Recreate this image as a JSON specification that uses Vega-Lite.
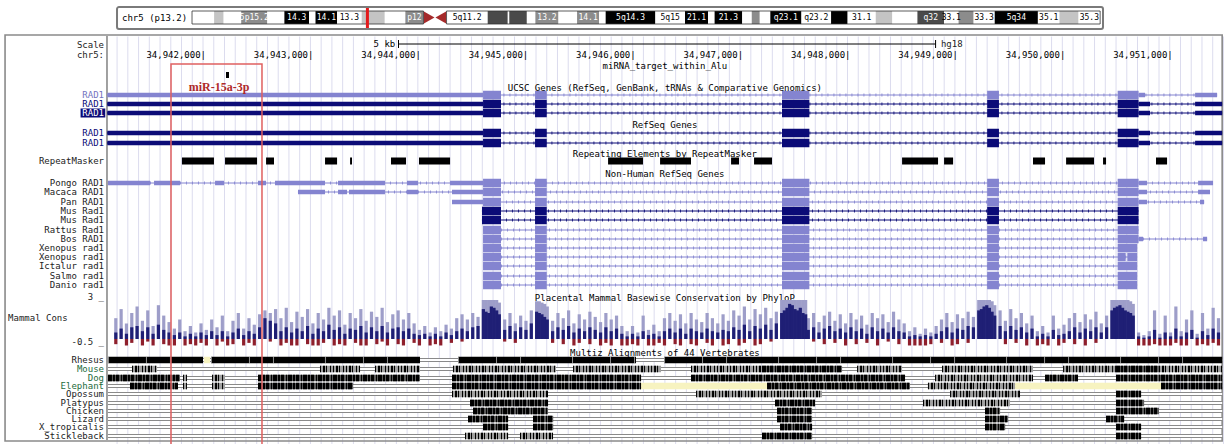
{
"$schema": "https://vega.github.io/schema/vega-lite/v6.json",
"width": 1227, "height": 444, "autosize": "none", "padding": 0,
"background": "white",
"config": {"view": {"stroke": null}},
"datasets": {
"grid": [{"s":34941200},{"s":34941300},{"s":34941400},{"s":34941500},{"s":34941600},{"s":34941700},{"s":34941800},{"s":34941900},
{"s":34942000},{"s":34942100},{"s":34942200},{"s":34942300},{"s":34942400},{"s":34942500},{"s":34942600},{"s":34942700},{"s":34942800},{"s":34942900},
{"s":34943000},{"s":34943100},{"s":34943200},{"s":34943300},{"s":34943400},{"s":34943500},{"s":34943600},{"s":34943700},{"s":34943800},{"s":34943900},
{"s":34944000},{"s":34944100},{"s":34944200},{"s":34944300},{"s":34944400},{"s":34944500},{"s":34944600},{"s":34944700},{"s":34944800},{"s":34944900},
{"s":34945000},{"s":34945100},{"s":34945200},{"s":34945300},{"s":34945400},{"s":34945500},{"s":34945600},{"s":34945700},{"s":34945800},{"s":34945900},
{"s":34946000},{"s":34946100},{"s":34946200},{"s":34946300},{"s":34946400},{"s":34946500},{"s":34946600},{"s":34946700},{"s":34946800},{"s":34946900},
{"s":34947000},{"s":34947100},{"s":34947200},{"s":34947300},{"s":34947400},{"s":34947500},{"s":34947600},{"s":34947700},{"s":34947800},{"s":34947900},
{"s":34948000},{"s":34948100},{"s":34948200},{"s":34948300},{"s":34948400},{"s":34948500},{"s":34948600},{"s":34948700},{"s":34948800},{"s":34948900},
{"s":34949000},{"s":34949100},{"s":34949200},{"s":34949300},{"s":34949400},{"s":34949500},{"s":34949600},{"s":34949700},{"s":34949800},{"s":34949900},
{"s":34950000},{"s":34950100},{"s":34950200},{"s":34950300},{"s":34950400},{"s":34950500},{"s":34950600},{"s":34950700},{"s":34950800},{"s":34950900},
{"s":34951000},{"s":34951100},{"s":34951200},{"s":34951300},{"s":34951400},{"s":34951500}],
"boxes": [{"k":"cover","s":34940110,"e":34951533,"y":0,"y2":36.5},{"k":"frame","s":34940157,"e":34951488,"y":35,"y2":441},{"k":"sep","s":34941106,"e":34941106,"y":36,"y2":440},{"k":"labbox","s":34940860,"e":34941090,"y":108.5,"y2":117.5},{"k":"hl","s":34941702,"e":34942549,"y":64,"y2":446}],
"pos": [{"s":34942000,"y":55,"t":"34,942,000|"},{"s":34943000,"y":55,"t":"34,943,000|"},{"s":34944000,"y":55,"t":"34,944,000|"},{"s":34945000,"y":55,"t":"34,945,000|"},{"s":34946000,"y":55,"t":"34,946,000|"},{"s":34947000,"y":55,"t":"34,947,000|"},{"s":34948000,"y":55,"t":"34,948,000|"},{"s":34949000,"y":55,"t":"34,949,000|"},{"s":34950000,"y":55,"t":"34,950,000|"},{"s":34951000,"y":55,"t":"34,951,000|"}],
"scalebar": [{"s":34943820,"e":34948820,"y":44,"y1":40,"y2":48}],
"scaletxt": [{"s":34943790,"y":44,"t":"5 kb","a":"r"},{"s":34948870,"y":44,"t":"hg18","a":"l"},{"s":34940185,"y":318,"t":"Mammal Cons","a":"l"}],
"titles": [{"s":34946300,"t":"miRNA_target_within_Alu","y":66},{"s":34946300,"t":"UCSC Genes (RefSeq, GenBank, tRNAs & Comparative Genomics)","y":88},{"s":34946300,"t":"RefSeq Genes","y":125},{"s":34946300,"t":"Repeating Elements by RepeatMasker","y":154},{"s":34946300,"t":"Non-Human RefSeq Genes","y":174},{"s":34946300,"t":"Placental Mammal Basewise Conservation by PhyloP","y":298},{"s":34946300,"t":"Multiz Alignments of 44 Vertebrates","y":352.5}],
"mir": [{"s":34942149,"y":87,"t":"miR-15a-3p"}],
"lab": [{"s":34941078,"t":"Scale","y":45,"g":"k"},{"s":34941078,"t":"chr5:","y":55,"g":"k"},{"s":34941078,"t":"RAD1","y":95,"g":"u"},{"s":34941078,"t":"RAD1","y":104,"g":"n"},{"s":34941078,"t":"RAD1","y":113,"g":"h"},{"s":34941078,"t":"RAD1","y":133,"g":"n"},{"s":34941078,"t":"RAD1","y":143,"g":"n"},{"s":34941078,"t":"RepeatMasker","y":161,"g":"k"},
{"s":34941078,"t":"Pongo RAD1","y":183,"g":"k"},{"s":34941078,"t":"Macaca RAD1","y":192,"g":"k"},{"s":34941078,"t":"Pan RAD1","y":202,"g":"k"},{"s":34941078,"t":"Mus Rad1","y":211,"g":"k"},{"s":34941078,"t":"Mus Rad1","y":220,"g":"k"},{"s":34941078,"t":"Rattus Rad1","y":230,"g":"k"},{"s":34941078,"t":"Bos RAD1","y":239,"g":"k"},{"s":34941078,"t":"Xenopus rad1","y":248,"g":"k"},{"s":34941078,"t":"Xenopus rad1","y":257,"g":"k"},{"s":34941078,"t":"Ictalur rad1","y":266,"g":"k"},{"s":34941078,"t":"Salmo rad1","y":276,"g":"k"},{"s":34941078,"t":"Danio rad1","y":285,"g":"k"},
{"s":34941078,"t":"3 _","y":297,"g":"k"},{"s":34941078,"t":"-0.5 _","y":342,"g":"k"},
{"s":34941078,"t":"Rhesus","y":360,"g":"k"},{"s":34941078,"t":"Mouse","y":369,"g":"sp"},{"s":34941078,"t":"Dog","y":378,"g":"sp"},{"s":34941078,"t":"Elephant","y":386,"g":"sp"},{"s":34941078,"t":"Opossum","y":394,"g":"k"},{"s":34941078,"t":"Platypus","y":403,"g":"k"},{"s":34941078,"t":"Chicken","y":411,"g":"k"},{"s":34941078,"t":"Lizard","y":419,"g":"k"},{"s":34941078,"t":"X_tropicalis","y":427,"g":"k"},{"s":34941078,"t":"Stickleback","y":436,"g":"k"}],
"seg": [
{"s":34941110,"e":34951441,"y":95,"k":"line","src":"oth"},{"s":34941110,"e":34944607,"y":95,"k":"utr","src":"oth"},{"s":34944607,"e":34944774,"y":95,"k":"cds","src":"oth"},{"s":34945091,"e":34945200,"y":95,"k":"cds","src":"oth"},{"s":34947390,"e":34947645,"y":95,"k":"cds","src":"oth"},{"s":34949300,"e":34949410,"y":95,"k":"cds","src":"oth"},{"s":34950515,"e":34950710,"y":95,"k":"cds","src":"oth"},{"s":34950710,"e":34950770,"y":95,"k":"utr","src":"oth"},{"s":34951236,"e":34951441,"y":95,"k":"utr","src":"oth"},
{"s":34941110,"e":34951488,"y":104,"k":"line","src":"ref"},{"s":34941110,"e":34944607,"y":104,"k":"utr","src":"ref"},{"s":34944607,"e":34944774,"y":104,"k":"cds","src":"ref"},{"s":34945091,"e":34945200,"y":104,"k":"cds","src":"ref"},{"s":34947390,"e":34947645,"y":104,"k":"cds","src":"ref"},{"s":34949300,"e":34949410,"y":104,"k":"cds","src":"ref"},{"s":34950515,"e":34950710,"y":104,"k":"cds","src":"ref"},{"s":34950710,"e":34950817,"y":104,"k":"utr","src":"ref"},{"s":34951236,"e":34951488,"y":104,"k":"utr","src":"ref"},
{"s":34941110,"e":34951488,"y":113,"k":"line","src":"ref"},{"s":34941110,"e":34944607,"y":113,"k":"utr","src":"ref"},{"s":34944607,"e":34944774,"y":113,"k":"cds","src":"ref"},{"s":34945091,"e":34945200,"y":113,"k":"cds","src":"ref"},{"s":34947390,"e":34947645,"y":113,"k":"cds","src":"ref"},{"s":34949300,"e":34949410,"y":113,"k":"cds","src":"ref"},{"s":34950515,"e":34950710,"y":113,"k":"cds","src":"ref"},{"s":34950710,"e":34950817,"y":113,"k":"utr","src":"ref"},{"s":34951236,"e":34951488,"y":113,"k":"utr","src":"ref"},
{"s":34941110,"e":34951488,"y":133,"k":"line","src":"ref"},{"s":34941110,"e":34944607,"y":133,"k":"utr","src":"ref"},{"s":34944607,"e":34944774,"y":133,"k":"cds","src":"ref"},{"s":34945091,"e":34945200,"y":133,"k":"cds","src":"ref"},{"s":34947390,"e":34947645,"y":133,"k":"cds","src":"ref"},{"s":34949300,"e":34949410,"y":133,"k":"cds","src":"ref"},{"s":34950515,"e":34950710,"y":133,"k":"cds","src":"ref"},{"s":34950710,"e":34950817,"y":133,"k":"utr","src":"ref"},{"s":34951236,"e":34951488,"y":133,"k":"utr","src":"ref"},
{"s":34941110,"e":34951488,"y":143,"k":"line","src":"ref"},{"s":34941110,"e":34944607,"y":143,"k":"utr","src":"ref"},{"s":34944607,"e":34944774,"y":143,"k":"cds","src":"ref"},{"s":34945091,"e":34945200,"y":143,"k":"cds","src":"ref"},{"s":34947390,"e":34947645,"y":143,"k":"cds","src":"ref"},{"s":34949300,"e":34949410,"y":143,"k":"cds","src":"ref"},{"s":34950515,"e":34950710,"y":143,"k":"cds","src":"ref"},{"s":34950710,"e":34950817,"y":143,"k":"utr","src":"ref"},{"s":34951236,"e":34951488,"y":143,"k":"utr","src":"ref"},
{"s":34941804,"e":34942102,"y":161,"k":"rm","src":"rm"},{"s":34942205,"e":34942503,"y":161,"k":"rm","src":"rm"},{"s":34942587,"e":34942661,"y":161,"k":"rm","src":"rm"},{"s":34943136,"e":34943248,"y":161,"k":"rm","src":"rm"},{"s":34943369,"e":34943387,"y":161,"k":"rm","src":"rm"},{"s":34943750,"e":34943890,"y":161,"k":"rm","src":"rm"},{"s":34944011,"e":34944300,"y":161,"k":"rm","src":"rm"},{"s":34945771,"e":34946096,"y":161,"k":"rm","src":"rm"},{"s":34946255,"e":34946543,"y":161,"k":"rm","src":"rm"},{"s":34946916,"e":34946990,"y":161,"k":"rm","src":"rm"},{"s":34947130,"e":34947297,"y":161,"k":"rm","src":"rm"},{"s":34948508,"e":34948843,"y":161,"k":"rm","src":"rm"},{"s":34948899,"e":34948983,"y":161,"k":"rm","src":"rm"},{"s":34949727,"e":34949839,"y":161,"k":"rm","src":"rm"},{"s":34950035,"e":34950295,"y":161,"k":"rm","src":"rm"},{"s":34950379,"e":34950407,"y":161,"k":"rm","src":"rm"},{"s":34950872,"e":34950975,"y":161,"k":"rm","src":"rm"},
{"s":34942214,"e":34942242,"y":75,"k":"mir","src":"rm"},
{"s":34941115,"e":34951403,"y":183,"k":"line","src":"oth"},{"s":34941115,"e":34941507,"y":183,"k":"utr","src":"oth"},{"s":34941544,"e":34941786,"y":183,"k":"utr","src":"oth"},{"s":34942112,"e":34942196,"y":183,"k":"utr","src":"oth"},{"s":34942512,"e":34942587,"y":183,"k":"utr","src":"oth"},{"s":34942670,"e":34943136,"y":183,"k":"utr","src":"oth"},{"s":34943257,"e":34943694,"y":183,"k":"utr","src":"oth"},{"s":34943899,"e":34944002,"y":183,"k":"utr","src":"oth"},{"s":34944300,"e":34944607,"y":183,"k":"utr","src":"oth"},{"s":34944607,"e":34944774,"y":183,"k":"cds","src":"oth"},{"s":34945091,"e":34945200,"y":183,"k":"cds","src":"oth"},{"s":34947390,"e":34947645,"y":183,"k":"cds","src":"oth"},{"s":34949300,"e":34949410,"y":183,"k":"cds","src":"oth"},{"s":34950515,"e":34950710,"y":183,"k":"cds","src":"oth"},{"s":34950710,"e":34950789,"y":183,"k":"utr","src":"oth"},{"s":34951264,"e":34951403,"y":183,"k":"utr","src":"oth"},
{"s":34942884,"e":34951375,"y":192,"k":"line","src":"oth"},{"s":34942884,"e":34943136,"y":192,"k":"utr","src":"oth"},{"s":34943257,"e":34943341,"y":192,"k":"utr","src":"oth"},{"s":34943359,"e":34943694,"y":192,"k":"utr","src":"oth"},{"s":34943899,"e":34944002,"y":192,"k":"utr","src":"oth"},{"s":34944318,"e":34944607,"y":192,"k":"utr","src":"oth"},{"s":34944607,"e":34944774,"y":192,"k":"cds","src":"oth"},{"s":34945091,"e":34945200,"y":192,"k":"cds","src":"oth"},{"s":34947390,"e":34947645,"y":192,"k":"cds","src":"oth"},{"s":34949300,"e":34949410,"y":192,"k":"cds","src":"oth"},{"s":34950515,"e":34950710,"y":192,"k":"cds","src":"oth"},{"s":34950710,"e":34950789,"y":192,"k":"utr","src":"oth"},{"s":34951264,"e":34951375,"y":192,"k":"utr","src":"oth"},
{"s":34944318,"e":34951320,"y":202,"k":"line","src":"oth"},{"s":34944318,"e":34944607,"y":202,"k":"utr","src":"oth"},{"s":34944607,"e":34944774,"y":202,"k":"cds","src":"oth"},{"s":34945091,"e":34945200,"y":202,"k":"cds","src":"oth"},{"s":34947390,"e":34947645,"y":202,"k":"cds","src":"oth"},{"s":34949300,"e":34949410,"y":202,"k":"cds","src":"oth"},{"s":34950515,"e":34950710,"y":202,"k":"cds","src":"oth"},{"s":34950710,"e":34950789,"y":202,"k":"utr","src":"oth"},{"s":34951282,"e":34951320,"y":202,"k":"utr","src":"oth"},
{"s":34944597,"e":34950710,"y":211,"k":"line","src":"ref"},{"s":34944597,"e":34944774,"y":211,"k":"cds","src":"ref"},{"s":34945091,"e":34945200,"y":211,"k":"cds","src":"ref"},{"s":34947390,"e":34947645,"y":211,"k":"cds","src":"ref"},{"s":34949300,"e":34949410,"y":211,"k":"cds","src":"ref"},{"s":34950515,"e":34950710,"y":211,"k":"cds","src":"ref"},
{"s":34944597,"e":34950710,"y":220,"k":"line","src":"ref"},{"s":34944597,"e":34944774,"y":220,"k":"cds","src":"ref"},{"s":34945091,"e":34945200,"y":220,"k":"cds","src":"ref"},{"s":34947390,"e":34947645,"y":220,"k":"cds","src":"ref"},{"s":34949300,"e":34949410,"y":220,"k":"cds","src":"ref"},{"s":34950515,"e":34950710,"y":220,"k":"cds","src":"ref"},
{"s":34944607,"e":34950710,"y":230,"k":"line","src":"oth"},{"s":34944607,"e":34944774,"y":230,"k":"cds","src":"oth"},{"s":34945091,"e":34945200,"y":230,"k":"cds","src":"oth"},{"s":34947390,"e":34947645,"y":230,"k":"cds","src":"oth"},{"s":34949300,"e":34949410,"y":230,"k":"cds","src":"oth"},{"s":34950515,"e":34950710,"y":230,"k":"cds","src":"oth"},
{"s":34944607,"e":34951348,"y":239,"k":"line","src":"oth"},{"s":34944607,"e":34944774,"y":239,"k":"cds","src":"oth"},{"s":34945091,"e":34945200,"y":239,"k":"cds","src":"oth"},{"s":34947390,"e":34947645,"y":239,"k":"cds","src":"oth"},{"s":34949300,"e":34949410,"y":239,"k":"cds","src":"oth"},{"s":34950515,"e":34950710,"y":239,"k":"cds","src":"oth"},{"s":34950710,"e":34950751,"y":239,"k":"utr","src":"oth"},{"s":34951310,"e":34951348,"y":239,"k":"utr","src":"oth"},
{"s":34944607,"e":34950696,"y":248,"k":"line","src":"oth"},{"s":34944607,"e":34944774,"y":248,"k":"cds","src":"oth"},{"s":34945091,"e":34945200,"y":248,"k":"cds","src":"oth"},{"s":34947390,"e":34947645,"y":248,"k":"cds","src":"oth"},{"s":34949300,"e":34949410,"y":248,"k":"cds","src":"oth"},{"s":34950515,"e":34950696,"y":248,"k":"cds","src":"oth"},
{"s":34944607,"e":34950696,"y":257,"k":"line","src":"oth"},{"s":34944607,"e":34944774,"y":257,"k":"cds","src":"oth"},{"s":34945091,"e":34945200,"y":257,"k":"cds","src":"oth"},{"s":34947390,"e":34947645,"y":257,"k":"cds","src":"oth"},{"s":34949300,"e":34949410,"y":257,"k":"cds","src":"oth"},{"s":34950515,"e":34950590,"y":257,"k":"cds","src":"oth"},{"s":34950605,"e":34950696,"y":257,"k":"cds","src":"oth"},
{"s":34944607,"e":34950696,"y":266,"k":"line","src":"oth"},{"s":34944607,"e":34944774,"y":266,"k":"cds","src":"oth"},{"s":34945091,"e":34945200,"y":266,"k":"cds","src":"oth"},{"s":34947390,"e":34947645,"y":266,"k":"cds","src":"oth"},{"s":34949300,"e":34949410,"y":266,"k":"cds","src":"oth"},{"s":34950515,"e":34950696,"y":266,"k":"cds","src":"oth"},
{"s":34944607,"e":34950696,"y":276,"k":"line","src":"oth"},{"s":34944607,"e":34944774,"y":276,"k":"cds","src":"oth"},{"s":34945091,"e":34945200,"y":276,"k":"cds","src":"oth"},{"s":34947390,"e":34947645,"y":276,"k":"cds","src":"oth"},{"s":34949300,"e":34949410,"y":276,"k":"cds","src":"oth"},{"s":34950515,"e":34950696,"y":276,"k":"cds","src":"oth"},
{"s":34944607,"e":34950696,"y":285,"k":"line","src":"oth"},{"s":34944607,"e":34944774,"y":285,"k":"cds","src":"oth"},{"s":34945091,"e":34945200,"y":285,"k":"cds","src":"oth"},{"s":34947390,"e":34947645,"y":285,"k":"cds","src":"oth"},{"s":34949300,"e":34949410,"y":285,"k":"cds","src":"oth"},{"s":34950515,"e":34950696,"y":285,"k":"cds","src":"oth"}
],
"alnrows": [{"s":34941115,"e":34951488,"y":360},{"s":34941115,"e":34951488,"y":369},{"s":34941115,"e":34951488,"y":378},{"s":34941115,"e":34951488,"y":386},{"s":34941115,"e":34951488,"y":394},{"s":34941115,"e":34951488,"y":403},{"s":34941115,"e":34951488,"y":411},{"s":34941115,"e":34951488,"y":419},{"s":34941115,"e":34951488,"y":427},{"s":34941115,"e":34951488,"y":436}],
"aln": [
{"s":34941115,"e":34942000,"y":360,"k":"solid"},{"s":34942009,"e":34942065,"y":360,"k":"ins"},{"s":34942074,"e":34944020,"y":360,"k":"solid"},{"s":34944374,"e":34946031,"y":360,"k":"solid"},{"s":34946292,"e":34951488,"y":360,"k":"solid"},
{"s":34941339,"e":34941572,"y":369,"k":"sparse"},{"s":34943089,"e":34943462,"y":369,"k":"sparse"},{"s":34943601,"e":34944020,"y":369,"k":"sparse"},{"s":34944327,"e":34945286,"y":369,"k":"sparse"},{"s":34945445,"e":34946264,"y":369,"k":"sparse"},{"s":34946543,"e":34947204,"y":369,"k":"sparse"},{"s":34947204,"e":34947949,"y":369,"k":"dense"},{"s":34948089,"e":34948508,"y":369,"k":"sparse"},{"s":34948880,"e":34949727,"y":369,"k":"sparse"},{"s":34950007,"e":34950500,"y":369,"k":"sparse"},{"s":34950500,"e":34950900,"y":369,"k":"dense"},{"s":34950900,"e":34951488,"y":369,"k":"sparse"},
{"s":34941115,"e":34941786,"y":378,"k":"dense"},{"s":34941814,"e":34941851,"y":378,"k":"sparse"},{"s":34942084,"e":34942205,"y":378,"k":"sparse"},{"s":34942512,"e":34944020,"y":378,"k":"dense"},{"s":34944318,"e":34946078,"y":378,"k":"dense"},{"s":34946543,"e":34948536,"y":378,"k":"dense"},{"s":34948815,"e":34949727,"y":378,"k":"sparse"},{"s":34949839,"e":34950146,"y":378,"k":"dense"},{"s":34950500,"e":34951488,"y":378,"k":"dense"},
{"s":34941320,"e":34941767,"y":386,"k":"dense"},{"s":34941814,"e":34941851,"y":386,"k":"sparse"},{"s":34942084,"e":34942205,"y":386,"k":"sparse"},{"s":34942512,"e":34943397,"y":386,"k":"dense"},{"s":34944318,"e":34946078,"y":386,"k":"dense"},{"s":34946078,"e":34947251,"y":386,"k":"ins"},{"s":34947251,"e":34948582,"y":386,"k":"dense"},{"s":34948749,"e":34949560,"y":386,"k":"sparse"},{"s":34949560,"e":34950919,"y":386,"k":"ins"},{"s":34950919,"e":34951488,"y":386,"k":"dense"},
{"s":34944318,"e":34945212,"y":394,"k":"sparse"},{"s":34946590,"e":34947763,"y":394,"k":"sparse"},{"s":34948955,"e":34949606,"y":394,"k":"sparse"},{"s":34950500,"e":34950733,"y":394,"k":"dense"},
{"s":34944486,"e":34945212,"y":403,"k":"dense"},{"s":34947325,"e":34947698,"y":403,"k":"dense"},{"s":34948703,"e":34949513,"y":403,"k":"sparse"},{"s":34950500,"e":34950761,"y":403,"k":"dense"},
{"s":34944514,"e":34945212,"y":411,"k":"dense"},{"s":34947344,"e":34947670,"y":411,"k":"dense"},{"s":34949280,"e":34949420,"y":411,"k":"dense"},{"s":34950500,"e":34950900,"y":411,"k":"dense"},
{"s":34944467,"e":34944840,"y":419,"k":"dense"},{"s":34945072,"e":34945259,"y":419,"k":"dense"},{"s":34947344,"e":34947670,"y":419,"k":"dense"},{"s":34949280,"e":34949495,"y":419,"k":"dense"},{"s":34950407,"e":34950575,"y":419,"k":"dense"},
{"s":34944607,"e":34944840,"y":427,"k":"dense"},{"s":34945072,"e":34945259,"y":427,"k":"dense"},{"s":34947372,"e":34947670,"y":427,"k":"dense"},{"s":34949280,"e":34949467,"y":427,"k":"dense"},{"s":34950500,"e":34950733,"y":427,"k":"dense"},
{"s":34944439,"e":34944840,"y":436,"k":"sparse"},{"s":34944951,"e":34945259,"y":436,"k":"sparse"},{"s":34947204,"e":34947670,"y":436,"k":"dense"},{"s":34950500,"e":34950733,"y":436,"k":"dense"}
],
"ideo": [{"k":"frame","s":-14.94,"e":181.47,"y":7,"y2":29},{"k":"arm","s":0,"e":46.1,"y":11,"y2":24},{"k":"arm","s":50.7,"e":180.9,"y":11,"y2":24},{"k":"here","s":34.94,"e":34.94,"y":8,"y2":28}],
"bands": [{"s":0,"e":4.4,"st":"gneg","y":11,"y2":24},{"s":4.4,"e":6.3,"st":"gpos25","y":11,"y2":24},{"s":6.3,"e":9.8,"st":"gneg","y":11,"y2":24},{"s":9.8,"e":15.0,"st":"gpos50","y":11,"y2":24},{"s":15.0,"e":18.4,"st":"gneg","y":11,"y2":24},{"s":18.4,"e":23.3,"st":"gpos100","y":11,"y2":24},{"s":23.3,"e":24.6,"st":"gneg","y":11,"y2":24},{"s":24.6,"e":28.9,"st":"gpos100","y":11,"y2":24},{"s":28.9,"e":33.8,"st":"gneg","y":11,"y2":24},{"s":33.8,"e":38.4,"st":"gpos25","y":11,"y2":24},{"s":38.4,"e":42.5,"st":"gneg","y":11,"y2":24},{"s":42.5,"e":46.1,"st":"gpos50","y":11,"y2":24},{"s":50.7,"e":58.9,"st":"gneg","y":11,"y2":24},{"s":58.9,"e":62.9,"st":"gpos75","y":11,"y2":24},{"s":62.9,"e":63.2,"st":"gneg","y":11,"y2":24},{"s":63.2,"e":66.7,"st":"gpos75","y":11,"y2":24},{"s":66.7,"e":68.4,"st":"gneg","y":11,"y2":24},{"s":68.4,"e":73.0,"st":"gpos50","y":11,"y2":24},{"s":73.0,"e":76.7,"st":"gneg","y":11,"y2":24},{"s":76.7,"e":81.1,"st":"gpos50","y":11,"y2":24},{"s":81.1,"e":82.4,"st":"gneg","y":11,"y2":24},{"s":82.4,"e":92.3,"st":"gpos100","y":11,"y2":24},{"s":92.3,"e":98.2,"st":"gneg","y":11,"y2":24},{"s":98.2,"e":102.8,"st":"gpos100","y":11,"y2":24},{"s":102.8,"e":104.1,"st":"gneg","y":11,"y2":24},{"s":104.1,"e":109.6,"st":"gpos100","y":11,"y2":24},{"s":109.6,"e":111.5,"st":"gneg","y":11,"y2":24},{"s":111.5,"e":113.1,"st":"gpos50","y":11,"y2":24},{"s":113.1,"e":115.2,"st":"gneg","y":11,"y2":24},{"s":115.2,"e":121.4,"st":"gpos100","y":11,"y2":24},{"s":121.4,"e":127.3,"st":"gneg","y":11,"y2":24},{"s":127.3,"e":130.6,"st":"gpos100","y":11,"y2":24},{"s":130.6,"e":136.2,"st":"gneg","y":11,"y2":24},{"s":136.2,"e":139.5,"st":"gpos25","y":11,"y2":24},{"s":139.5,"e":144.5,"st":"gneg","y":11,"y2":24},{"s":144.5,"e":149.8,"st":"gpos75","y":11,"y2":24},{"s":149.8,"e":152.7,"st":"gneg","y":11,"y2":24},{"s":152.7,"e":155.7,"st":"gpos50","y":11,"y2":24},{"s":155.7,"e":159.9,"st":"gneg","y":11,"y2":24},{"s":159.9,"e":168.5,"st":"gpos100","y":11,"y2":24},{"s":168.5,"e":172.8,"st":"gneg","y":11,"y2":24},{"s":172.8,"e":176.6,"st":"gpos25","y":11,"y2":24},{"s":176.6,"e":180.9,"st":"gneg","y":11,"y2":24}],
"blabs": [{"s":-13.94,"y":17.5,"t":"chr5 (p13.2)","st":"txt"},{"s":12.4,"y":17.5,"t":"5p15.2","st":"gpos50"},{"s":20.85,"y":17.5,"t":"14.3","st":"gpos100"},{"s":26.75,"y":17.5,"t":"14.1","st":"gpos100"},{"s":31.35,"y":17.5,"t":"13.3","st":"gneg"},{"s":44.3,"y":17.5,"t":"p12","st":"gpos50"},{"s":54.8,"y":17.5,"t":"5q11.2","st":"gneg"},{"s":70.7,"y":17.5,"t":"13.2","st":"gpos50"},{"s":78.9,"y":17.5,"t":"14.1","st":"gpos50"},{"s":87.35,"y":17.5,"t":"5q14.3","st":"gpos100"},{"s":95.25,"y":17.5,"t":"5q15","st":"gneg"},{"s":100.5,"y":17.5,"t":"21.1","st":"gpos100"},{"s":106.85,"y":17.5,"t":"21.3","st":"gpos100"},{"s":118.3,"y":17.5,"t":"q23.1","st":"gpos100"},{"s":124.35,"y":17.5,"t":"q23.2","st":"gneg"},{"s":133.4,"y":17.5,"t":"31.1","st":"gneg"},{"s":147.15,"y":17.5,"t":"q32","st":"gpos75"},{"s":151.25,"y":17.5,"t":"33.1","st":"gneg"},{"s":157.8,"y":17.5,"t":"33.3","st":"gneg"},{"s":164.2,"y":17.5,"t":"5q34","st":"gpos100"},{"s":170.65,"y":17.5,"t":"35.1","st":"gneg"},{"s":178.75,"y":17.5,"t":"35.3","st":"gneg"}],
"cen": [{"s":47.25,"y":17.5,"sh":"triangle-right"},{"s":49.55,"y":17.5,"sh":"triangle-left"}],
"cons": [
{"p":34941150,"h":1.6,"m":0.5,"l":-0.4},{"p":34941200,"h":2.3,"m":0.8,"l":0},{"p":34941250,"h":1.2,"m":0.4,"l":-0.5},{"p":34941300,"h":2.0,"m":0.9,"l":-0.3},{"p":34941350,"h":2.5,"m":1.0,"l":0},{"p":34941400,"h":1.4,"m":0.6,"l":-0.5},{"p":34941450,"h":2.2,"m":0.9,"l":-0.2},{"p":34941500,"h":1.0,"m":0.4,"l":-0.5},{"p":34941550,"h":2.6,"m":1.1,"l":0},{"p":34941600,"h":1.8,"m":0.7,"l":-0.4},
{"p":34941650,"h":1.3,"m":0.5,"l":-0.5},{"p":34941700,"h":0.8,"m":0.3,"l":-0.5},{"p":34941750,"h":1.5,"m":0.5,"l":0},{"p":34941800,"h":0.6,"m":0.2,"l":-0.5},{"p":34941850,"h":1.0,"m":0.4,"l":-0.4},{"p":34941900,"h":0.5,"m":0.2,"l":-0.5},{"p":34941950,"h":1.2,"m":0.5,"l":-0.3},{"p":34942000,"h":0.7,"m":0.3,"l":-0.5},{"p":34942050,"h":1.5,"m":0.6,"l":0},{"p":34942100,"h":0.9,"m":0.3,"l":-0.5},
{"p":34942150,"h":1.8,"m":0.6,"l":-0.2},{"p":34942200,"h":0.6,"m":0.2,"l":-0.5},{"p":34942250,"h":1.4,"m":0.5,"l":-0.4},{"p":34942300,"h":2.0,"m":0.8,"l":0},{"p":34942350,"h":0.8,"m":0.3,"l":-0.5},{"p":34942400,"h":1.6,"m":0.6,"l":-0.3},{"p":34942450,"h":1.1,"m":0.4,"l":-0.5},{"p":34942500,"h":1.9,"m":0.9,"l":0},{"p":34942550,"h":2.2,"m":1.6,"l":0},{"p":34942600,"h":2.0,"m":1.4,"l":-0.2},
{"p":34942650,"h":2.3,"m":1.2,"l":0},{"p":34942700,"h":1.6,"m":0.6,"l":-0.5},{"p":34942750,"h":2.4,"m":0.9,"l":-0.3},{"p":34942800,"h":1.3,"m":0.5,"l":-0.5},{"p":34942850,"h":2.1,"m":0.8,"l":-0.5},{"p":34942900,"h":1.7,"m":0.6,"l":0},{"p":34942950,"h":2.3,"m":1.0,"l":-0.4},{"p":34943000,"h":1.2,"m":0.4,"l":-0.5},{"p":34943050,"h":2.0,"m":0.8,"l":-0.5},{"p":34943100,"h":1.5,"m":0.6,"l":-0.3},
{"p":34943150,"h":2.4,"m":1.1,"l":0},{"p":34943200,"h":1.8,"m":0.7,"l":-0.5},{"p":34943250,"h":2.2,"m":0.9,"l":-0.4},{"p":34943300,"h":1.1,"m":0.4,"l":-0.5},{"p":34943350,"h":2.0,"m":0.8,"l":0},{"p":34943400,"h":1.6,"m":0.7,"l":-0.3},{"p":34943450,"h":2.3,"m":1.0,"l":-0.5},{"p":34943500,"h":1.4,"m":0.5,"l":-0.5},{"p":34943550,"h":2.1,"m":0.9,"l":0},{"p":34943600,"h":1.7,"m":0.6,"l":-0.4},
{"p":34943650,"h":2.4,"m":1.0,"l":-0.2},{"p":34943700,"h":1.3,"m":0.5,"l":-0.5},{"p":34943750,"h":1.9,"m":0.8,"l":0},{"p":34943800,"h":2.2,"m":0.9,"l":-0.4},{"p":34943850,"h":1.5,"m":0.6,"l":-0.5},{"p":34943900,"h":2.0,"m":0.8,"l":0},{"p":34943950,"h":1.2,"m":0.4,"l":-0.3},{"p":34944000,"h":0.7,"m":0.3,"l":-0.5},{"p":34944050,"h":1.0,"m":0.4,"l":0},{"p":34944100,"h":0.5,"m":0.2,"l":-0.5},
{"p":34944150,"h":0.9,"m":0.4,"l":-0.4},{"p":34944200,"h":0.6,"m":0.2,"l":-0.5},{"p":34944250,"h":1.1,"m":0.5,"l":0},{"p":34944300,"h":0.8,"m":0.3,"l":-0.3},{"p":34944350,"h":1.6,"m":0.6,"l":0},{"p":34944400,"h":1.9,"m":0.8,"l":-0.2},{"p":34944450,"h":1.5,"m":0.6,"l":0},{"p":34944500,"h":2.0,"m":0.9,"l":0},{"p":34944550,"h":1.7,"m":1.0,"l":0},{"p":34944600,"h":3.0,"m":2.3,"l":0},
{"p":34944625,"h":3.0,"m":2.1,"l":0},{"p":34944650,"h":3.0,"m":2.0,"l":0},{"p":34944675,"h":3.0,"m":2.5,"l":0},{"p":34944700,"h":3.0,"m":2.4,"l":0},{"p":34944725,"h":3.0,"m":2.2,"l":0},{"p":34944750,"h":2.8,"m":1.9,"l":0},
{"p":34944800,"h":1.5,"m":0.7,"l":-0.2},{"p":34944850,"h":2.0,"m":1.0,"l":0},{"p":34944900,"h":1.2,"m":0.6,"l":-0.3},{"p":34944950,"h":1.8,"m":0.9,"l":0},{"p":34945000,"h":1.4,"m":0.7,"l":0},{"p":34945050,"h":2.2,"m":1.2,"l":0},{"p":34945100,"h":2.9,"m":2.1,"l":0},{"p":34945125,"h":2.9,"m":2.0,"l":0},
{"p":34945150,"h":2.8,"m":1.9,"l":0},{"p":34945175,"h":2.7,"m":1.7,"l":0},{"p":34945200,"h":2.5,"m":1.5,"l":0},{"p":34945250,"h":1.4,"m":0.6,"l":-0.3},{"p":34945300,"h":2.0,"m":0.9,"l":0},{"p":34945350,"h":1.6,"m":0.7,"l":-0.4},{"p":34945400,"h":2.2,"m":1.0,"l":0},{"p":34945450,"h":1.2,"m":0.5,"l":-0.5},{"p":34945500,"h":1.9,"m":0.8,"l":-0.3},{"p":34945550,"h":1.5,"m":0.6,"l":0},{"p":34945600,"h":2.1,"m":0.9,"l":-0.4},
{"p":34945650,"h":1.7,"m":0.7,"l":0},{"p":34945700,"h":1.3,"m":0.5,"l":-0.5},{"p":34945750,"h":2.0,"m":0.9,"l":-0.3},{"p":34945800,"h":1.5,"m":0.6,"l":-0.5},{"p":34945850,"h":1.8,"m":0.8,"l":0},{"p":34945900,"h":1.0,"m":0.4,"l":-0.5},{"p":34945950,"h":0.6,"m":0.2,"l":-0.5},{"p":34946000,"h":1.0,"m":0.4,"l":-0.4},{"p":34946050,"h":0.5,"m":0.2,"l":-0.5},{"p":34946100,"h":1.8,"m":0.6,"l":0},
{"p":34946150,"h":0.7,"m":0.3,"l":-0.5},{"p":34946200,"h":1.1,"m":0.4,"l":-0.5},{"p":34946250,"h":0.6,"m":0.2,"l":-0.3},{"p":34946300,"h":1.6,"m":0.6,"l":-0.5},{"p":34946350,"h":2.0,"m":0.8,"l":0},{"p":34946400,"h":1.4,"m":0.5,"l":-0.4},{"p":34946450,"h":1.9,"m":0.8,"l":-0.5},{"p":34946500,"h":1.2,"m":0.4,"l":0},{"p":34946550,"h":2.0,"m":0.8,"l":-0.4},{"p":34946600,"h":1.5,"m":0.6,"l":-0.5},
{"p":34946650,"h":1.3,"m":0.5,"l":0},{"p":34946700,"h":2.0,"m":0.8,"l":-0.3},{"p":34946750,"h":1.6,"m":0.6,"l":-0.5},{"p":34946800,"h":1.2,"m":0.5,"l":0},{"p":34946850,"h":1.9,"m":0.7,"l":-0.5},{"p":34946900,"h":1.4,"m":0.6,"l":-0.4},{"p":34946950,"h":2.2,"m":0.9,"l":0},{"p":34947000,"h":1.8,"m":0.7,"l":-0.5},{"p":34947050,"h":2.5,"m":1.1,"l":-0.3},{"p":34947100,"h":1.5,"m":0.6,"l":0},
{"p":34947150,"h":2.3,"m":1.0,"l":-0.5},{"p":34947200,"h":1.9,"m":0.8,"l":-0.4},{"p":34947250,"h":2.4,"m":1.1,"l":0},{"p":34947300,"h":1.6,"m":0.7,"l":-0.2},{"p":34947350,"h":2.1,"m":1.2,"l":0},{"p":34947400,"h":3.0,"m":2.0,"l":0},{"p":34947425,"h":3.0,"m":2.2,"l":0},{"p":34947450,"h":3.0,"m":2.4,"l":0},{"p":34947475,"h":3.0,"m":2.7,"l":0},{"p":34947500,"h":3.0,"m":2.6,"l":0},{"p":34947525,"h":3.0,"m":2.3,"l":0},{"p":34947550,"h":3.0,"m":2.2,"l":0},{"p":34947575,"h":3.0,"m":2.4,"l":0},{"p":34947600,"h":3.0,"m":2.0,"l":0},{"p":34947625,"h":3.0,"m":1.9,"l":0},
{"p":34947650,"h":1.6,"m":0.7,"l":0},{"p":34947700,"h":2.0,"m":0.9,"l":-0.2},{"p":34947750,"h":1.3,"m":0.5,"l":0},{"p":34947800,"h":1.8,"m":0.8,"l":-0.4},{"p":34947850,"h":2.1,"m":1.0,"l":0},{"p":34947900,"h":1.4,"m":0.6,"l":-0.3},{"p":34947950,"h":1.9,"m":0.8,"l":0},{"p":34948000,"h":1.2,"m":0.5,"l":-0.5},{"p":34948050,"h":2.0,"m":0.9,"l":0},{"p":34948100,"h":1.5,"m":0.6,"l":-0.4},
{"p":34948150,"h":1.8,"m":0.8,"l":0},{"p":34948200,"h":1.1,"m":0.4,"l":-0.3},{"p":34948250,"h":2.0,"m":0.9,"l":0},{"p":34948300,"h":1.6,"m":0.6,"l":-0.5},{"p":34948350,"h":1.9,"m":0.8,"l":0},{"p":34948400,"h":1.3,"m":0.5,"l":-0.2},{"p":34948450,"h":2.1,"m":0.9,"l":0},{"p":34948500,"h":1.5,"m":0.6,"l":-0.4},{"p":34948550,"h":1.2,"m":0.5,"l":0},{"p":34948600,"h":0.6,"m":0.2,"l":-0.5},
{"p":34948650,"h":0.9,"m":0.3,"l":-0.5},{"p":34948700,"h":0.4,"m":0.2,"l":-0.5},{"p":34948750,"h":0.8,"m":0.3,"l":-0.5},{"p":34948800,"h":0.5,"m":0.2,"l":-0.4},{"p":34948850,"h":1.0,"m":0.4,"l":0},{"p":34948900,"h":1.5,"m":0.6,"l":-0.3},{"p":34948950,"h":2.0,"m":0.9,"l":0},{"p":34949000,"h":1.3,"m":0.5,"l":-0.5},{"p":34949050,"h":1.9,"m":0.8,"l":-0.4},{"p":34949100,"h":1.6,"m":0.7,"l":0},
{"p":34949150,"h":2.1,"m":1.0,"l":-0.3},{"p":34949200,"h":1.7,"m":0.9,"l":0},{"p":34949250,"h":3.0,"m":2.2,"l":0},{"p":34949275,"h":3.0,"m":2.3,"l":0},{"p":34949300,"h":3.0,"m":2.5,"l":0},{"p":34949325,"h":3.0,"m":2.6,"l":0},{"p":34949350,"h":3.0,"m":2.4,"l":0},{"p":34949375,"h":2.9,"m":2.1,"l":0},{"p":34949400,"h":2.6,"m":1.8,"l":0},{"p":34949450,"h":2.2,"m":1.0,"l":0},{"p":34949500,"h":1.4,"m":0.6,"l":-0.4},{"p":34949550,"h":2.3,"m":1.0,"l":0},{"p":34949600,"h":1.6,"m":0.7,"l":-0.3},
{"p":34949650,"h":2.0,"m":0.9,"l":0},{"p":34949700,"h":1.2,"m":0.5,"l":-0.5},{"p":34949750,"h":1.8,"m":0.8,"l":0},{"p":34949800,"h":0.6,"m":0.2,"l":-0.5},{"p":34949850,"h":1.0,"m":0.4,"l":-0.4},{"p":34949900,"h":0.5,"m":0.2,"l":-0.5},{"p":34949950,"h":1.8,"m":0.7,"l":0},{"p":34950000,"h":0.8,"m":0.3,"l":-0.5},{"p":34950050,"h":1.1,"m":0.4,"l":-0.3},{"p":34950100,"h":1.6,"m":0.6,"l":0},
{"p":34950150,"h":2.0,"m":0.9,"l":-0.4},{"p":34950200,"h":1.3,"m":0.5,"l":0},{"p":34950250,"h":1.9,"m":0.8,"l":-0.5},{"p":34950300,"h":1.5,"m":0.6,"l":0},{"p":34950350,"h":2.1,"m":0.9,"l":-0.3},{"p":34950400,"h":1.2,"m":0.5,"l":0},{"p":34950450,"h":1.8,"m":0.9,"l":0},{"p":34950500,"h":3.0,"m":2.2,"l":0},{"p":34950525,"h":3.0,"m":2.4,"l":0},{"p":34950550,"h":3.0,"m":2.5,"l":0},{"p":34950575,"h":3.0,"m":2.6,"l":0},{"p":34950600,"h":3.0,"m":2.4,"l":0},{"p":34950625,"h":3.0,"m":2.2,"l":0},
{"p":34950650,"h":3.0,"m":2.1,"l":0},{"p":34950675,"h":2.9,"m":2.0,"l":0},{"p":34950700,"h":2.7,"m":1.8,"l":0},{"p":34950750,"h":0.5,"m":0.2,"l":-0.5},{"p":34950800,"h":0.3,"m":0.1,"l":-0.5},{"p":34950850,"h":0.6,"m":0.2,"l":-0.5},{"p":34950900,"h":2.2,"m":0.7,"l":-0.4},{"p":34950950,"h":0.4,"m":0.1,"l":-0.5},{"p":34951000,"h":1.8,"m":0.5,"l":-0.5},{"p":34951050,"h":0.5,"m":0.2,"l":-0.5},{"p":34951100,"h":2.5,"m":0.8,"l":-0.3},
{"p":34951150,"h":0.6,"m":0.2,"l":-0.5},{"p":34951200,"h":1.5,"m":0.5,"l":-0.5},{"p":34951250,"h":2.2,"m":0.7,"l":0},{"p":34951300,"h":0.4,"m":0.1,"l":-0.5},{"p":34951350,"h":2.0,"m":0.6,"l":-0.4},{"p":34951400,"h":0.8,"m":0.3,"l":-0.5},{"p":34951450,"h":2.4,"m":0.8,"l":-0.3},{"p":34951500,"h":1.6,"m":0.5,"l":-0.5}
]
},
"resolve": {"scale": {"x": "independent", "y": "independent", "color": "independent"}},
"layer": [
 {"data": {"name": "grid"}, "mark": {"type": "rule", "color": "#dcdcee", "strokeWidth": 1},
  "encoding": {"x": {"field": "s", "type": "quantitative", "scale": {"domain": [34940110, 34951533], "nice": false, "zero": false}, "axis": null}}},
 {"data": {"name": "boxes"}, "transform": [{"filter": "datum.k == 'cover'"}], "mark": {"type": "rect", "color": "#ffffff"},
  "encoding": {"x": {"field": "s", "type": "quantitative", "scale": {"domain": [34940110, 34951533], "nice": false, "zero": false}, "axis": null}, "x2": {"field": "e"},
   "y": {"field": "y", "type": "quantitative", "scale": {"domain": [0, 444], "reverse": true, "nice": false, "zero": false}, "axis": null}, "y2": {"field": "y2"}}},
 {"data": {"name": "boxes"}, "transform": [{"filter": "datum.k == 'frame' || datum.k == 'sep'"}], "mark": {"type": "rect", "fill": "#ffffff", "fillOpacity": 0, "stroke": "#8a8a8a", "strokeWidth": 1.6},
  "encoding": {"x": {"field": "s", "type": "quantitative", "scale": {"domain": [34940110, 34951533], "nice": false, "zero": false}, "axis": null}, "x2": {"field": "e"},
   "y": {"field": "y", "type": "quantitative", "scale": {"domain": [0, 444], "reverse": true, "nice": false, "zero": false}, "axis": null}, "y2": {"field": "y2"}}},
 {"data": {"name": "alnrows"}, "mark": {"type": "rule", "color": "#8a8a8a", "strokeWidth": 4},
  "encoding": {"x": {"field": "s", "type": "quantitative", "scale": {"domain": [34940110, 34951533], "nice": false, "zero": false}, "axis": null}, "x2": {"field": "e"},
   "y": {"field": "y", "type": "quantitative", "scale": {"domain": [0, 444], "reverse": true, "nice": false, "zero": false}, "axis": null}}},
 {"data": {"name": "alnrows"}, "mark": {"type": "rule", "color": "#ffffff", "strokeWidth": 2},
  "encoding": {"x": {"field": "s", "type": "quantitative", "scale": {"domain": [34940110, 34951533], "nice": false, "zero": false}, "axis": null}, "x2": {"field": "e"},
   "y": {"field": "y", "type": "quantitative", "scale": {"domain": [0, 444], "reverse": true, "nice": false, "zero": false}, "axis": null}}},
 {"data": {"name": "aln"}, "mark": {"type": "rule", "strokeWidth": 6.5, "strokeCap": "butt"},
  "encoding": {"x": {"field": "s", "type": "quantitative", "scale": {"domain": [34940110, 34951533], "nice": false, "zero": false}, "axis": null}, "x2": {"field": "e"},
   "y": {"field": "y", "type": "quantitative", "scale": {"domain": [0, 444], "reverse": true, "nice": false, "zero": false}, "axis": null},
   "color": {"field": "k", "type": "nominal", "scale": {"domain": ["solid", "dense", "sparse", "ins"], "range": ["#000000", "#5c5c5c", "#a0a0a0", "#f7f3c0"]}, "legend": null}}},
 {"data": {"name": "aln"}, "transform": [{"filter": "datum.k == 'solid'"}], "mark": {"type": "rule", "strokeWidth": 6.5, "strokeCap": "butt", "color": "#ffffff", "opacity": 0.55, "strokeDash": [1, 37, 1, 23, 1, 51]},
  "encoding": {"x": {"field": "s", "type": "quantitative", "scale": {"domain": [34940110, 34951533], "nice": false, "zero": false}, "axis": null}, "x2": {"field": "e"},
   "y": {"field": "y", "type": "quantitative", "scale": {"domain": [0, 444], "reverse": true, "nice": false, "zero": false}, "axis": null}}},
 {"data": {"name": "aln"}, "transform": [{"filter": "datum.k == 'dense'"}], "mark": {"type": "rule", "strokeWidth": 6.5, "strokeCap": "butt", "color": "#000000", "strokeDash": [4, 1, 2, 1, 3, 2, 1, 1]},
  "encoding": {"x": {"field": "s", "type": "quantitative", "scale": {"domain": [34940110, 34951533], "nice": false, "zero": false}, "axis": null}, "x2": {"field": "e"},
   "y": {"field": "y", "type": "quantitative", "scale": {"domain": [0, 444], "reverse": true, "nice": false, "zero": false}, "axis": null}}},
 {"data": {"name": "aln"}, "transform": [{"filter": "datum.k == 'sparse'"}], "mark": {"type": "rule", "strokeWidth": 6.5, "strokeCap": "butt", "color": "#000000", "strokeDash": [1, 2, 2, 1, 1, 3, 1, 2]},
  "encoding": {"x": {"field": "s", "type": "quantitative", "scale": {"domain": [34940110, 34951533], "nice": false, "zero": false}, "axis": null}, "x2": {"field": "e"},
   "y": {"field": "y", "type": "quantitative", "scale": {"domain": [0, 444], "reverse": true, "nice": false, "zero": false}, "axis": null}}},
 {"data": {"name": "seg"}, "transform": [{"filter": "datum.k == 'line'"}], "mark": {"type": "rule", "strokeWidth": 1},
  "encoding": {"x": {"field": "s", "type": "quantitative", "scale": {"domain": [34940110, 34951533], "nice": false, "zero": false}, "axis": null}, "x2": {"field": "e"},
   "y": {"field": "y", "type": "quantitative", "scale": {"domain": [0, 444], "reverse": true, "nice": false, "zero": false}, "axis": null},
   "color": {"field": "src", "type": "nominal", "scale": {"domain": ["ref", "oth"], "range": ["#0b0b77", "#8484d0"]}, "legend": null}}},
 {"data": {"name": "seg"}, "transform": [{"filter": "datum.k == 'line'"}], "mark": {"type": "rule", "strokeWidth": 3, "strokeDash": [1, 5], "opacity": 0.85},
  "encoding": {"x": {"field": "s", "type": "quantitative", "scale": {"domain": [34940110, 34951533], "nice": false, "zero": false}, "axis": null}, "x2": {"field": "e"},
   "y": {"field": "y", "type": "quantitative", "scale": {"domain": [0, 444], "reverse": true, "nice": false, "zero": false}, "axis": null},
   "color": {"field": "src", "type": "nominal", "scale": {"domain": ["ref", "oth"], "range": ["#0b0b77", "#8484d0"]}, "legend": null}}},
 {"data": {"name": "seg"}, "transform": [{"filter": "datum.k == 'utr'"}], "mark": {"type": "rule", "strokeWidth": 4.5, "strokeCap": "butt"},
  "encoding": {"x": {"field": "s", "type": "quantitative", "scale": {"domain": [34940110, 34951533], "nice": false, "zero": false}, "axis": null}, "x2": {"field": "e"},
   "y": {"field": "y", "type": "quantitative", "scale": {"domain": [0, 444], "reverse": true, "nice": false, "zero": false}, "axis": null},
   "color": {"field": "src", "type": "nominal", "scale": {"domain": ["ref", "oth"], "range": ["#0b0b77", "#8484d0"]}, "legend": null}}},
 {"data": {"name": "seg"}, "transform": [{"filter": "datum.k == 'cds'"}], "mark": {"type": "rule", "strokeWidth": 8.5, "strokeCap": "butt"},
  "encoding": {"x": {"field": "s", "type": "quantitative", "scale": {"domain": [34940110, 34951533], "nice": false, "zero": false}, "axis": null}, "x2": {"field": "e"},
   "y": {"field": "y", "type": "quantitative", "scale": {"domain": [0, 444], "reverse": true, "nice": false, "zero": false}, "axis": null},
   "color": {"field": "src", "type": "nominal", "scale": {"domain": ["ref", "oth"], "range": ["#0b0b77", "#8484d0"]}, "legend": null}}},
 {"data": {"name": "seg"}, "transform": [{"filter": "datum.k == 'rm'"}], "mark": {"type": "rule", "strokeWidth": 7, "strokeCap": "butt", "color": "#000000"},
  "encoding": {"x": {"field": "s", "type": "quantitative", "scale": {"domain": [34940110, 34951533], "nice": false, "zero": false}, "axis": null}, "x2": {"field": "e"},
   "y": {"field": "y", "type": "quantitative", "scale": {"domain": [0, 444], "reverse": true, "nice": false, "zero": false}, "axis": null}}},
 {"data": {"name": "seg"}, "transform": [{"filter": "datum.k == 'mir'"}], "mark": {"type": "rule", "strokeWidth": 6, "strokeCap": "butt", "color": "#000000"},
  "encoding": {"x": {"field": "s", "type": "quantitative", "scale": {"domain": [34940110, 34951533], "nice": false, "zero": false}, "axis": null}, "x2": {"field": "e"},
   "y": {"field": "y", "type": "quantitative", "scale": {"domain": [0, 444], "reverse": true, "nice": false, "zero": false}, "axis": null}}},
 {"data": {"name": "scalebar"}, "mark": {"type": "rule", "color": "#000000", "strokeWidth": 1},
  "encoding": {"x": {"field": "s", "type": "quantitative", "scale": {"domain": [34940110, 34951533], "nice": false, "zero": false}, "axis": null}, "x2": {"field": "e"},
   "y": {"field": "y", "type": "quantitative", "scale": {"domain": [0, 444], "reverse": true, "nice": false, "zero": false}, "axis": null}}},
 {"data": {"name": "scalebar"}, "mark": {"type": "rule", "color": "#000000", "strokeWidth": 1},
  "encoding": {"x": {"field": "s", "type": "quantitative", "scale": {"domain": [34940110, 34951533], "nice": false, "zero": false}, "axis": null},
   "y": {"field": "y1", "type": "quantitative", "scale": {"domain": [0, 444], "reverse": true, "nice": false, "zero": false}, "axis": null}, "y2": {"field": "y2"}}},
 {"data": {"name": "scalebar"}, "mark": {"type": "rule", "color": "#000000", "strokeWidth": 1},
  "encoding": {"x": {"field": "e", "type": "quantitative", "scale": {"domain": [34940110, 34951533], "nice": false, "zero": false}, "axis": null},
   "y": {"field": "y1", "type": "quantitative", "scale": {"domain": [0, 444], "reverse": true, "nice": false, "zero": false}, "axis": null}, "y2": {"field": "y2"}}},
 {"data": {"name": "scaletxt"}, "transform": [{"filter": "datum.a == 'r'"}], "mark": {"type": "text", "align": "right", "baseline": "middle", "font": "DejaVu Sans Mono", "fontSize": 9, "color": "#000000"},
  "encoding": {"x": {"field": "s", "type": "quantitative", "scale": {"domain": [34940110, 34951533], "nice": false, "zero": false}, "axis": null},
   "y": {"field": "y", "type": "quantitative", "scale": {"domain": [0, 444], "reverse": true, "nice": false, "zero": false}, "axis": null}, "text": {"field": "t", "type": "nominal"}}},
 {"data": {"name": "scaletxt"}, "transform": [{"filter": "datum.a == 'l'"}], "mark": {"type": "text", "align": "left", "baseline": "middle", "font": "DejaVu Sans Mono", "fontSize": 9, "color": "#222222"},
  "encoding": {"x": {"field": "s", "type": "quantitative", "scale": {"domain": [34940110, 34951533], "nice": false, "zero": false}, "axis": null},
   "y": {"field": "y", "type": "quantitative", "scale": {"domain": [0, 444], "reverse": true, "nice": false, "zero": false}, "axis": null}, "text": {"field": "t", "type": "nominal"}}},
 {"data": {"name": "pos"}, "mark": {"type": "text", "align": "right", "baseline": "middle", "font": "DejaVu Sans Mono", "fontSize": 9, "dx": 3, "color": "#000000"},
  "encoding": {"x": {"field": "s", "type": "quantitative", "scale": {"domain": [34940110, 34951533], "nice": false, "zero": false}, "axis": null},
   "y": {"field": "y", "type": "quantitative", "scale": {"domain": [0, 444], "reverse": true, "nice": false, "zero": false}, "axis": null}, "text": {"field": "t", "type": "nominal"}}},
 {"data": {"name": "titles"}, "mark": {"type": "text", "align": "center", "baseline": "middle", "font": "DejaVu Sans Mono", "fontSize": 9, "color": "#000000"},
  "encoding": {"x": {"field": "s", "type": "quantitative", "scale": {"domain": [34940110, 34951533], "nice": false, "zero": false}, "axis": null},
   "y": {"field": "y", "type": "quantitative", "scale": {"domain": [0, 444], "reverse": true, "nice": false, "zero": false}, "axis": null}, "text": {"field": "t", "type": "nominal"}}},
 {"data": {"name": "boxes"}, "transform": [{"filter": "datum.k == 'labbox'"}], "mark": {"type": "rect", "color": "#0b0b77"},
  "encoding": {"x": {"field": "s", "type": "quantitative", "scale": {"domain": [34940110, 34951533], "nice": false, "zero": false}, "axis": null}, "x2": {"field": "e"},
   "y": {"field": "y", "type": "quantitative", "scale": {"domain": [0, 444], "reverse": true, "nice": false, "zero": false}, "axis": null}, "y2": {"field": "y2"}}},
 {"data": {"name": "lab"}, "mark": {"type": "text", "align": "right", "baseline": "middle", "font": "DejaVu Sans Mono", "fontSize": 9},
  "encoding": {"x": {"field": "s", "type": "quantitative", "scale": {"domain": [34940110, 34951533], "nice": false, "zero": false}, "axis": null},
   "y": {"field": "y", "type": "quantitative", "scale": {"domain": [0, 444], "reverse": true, "nice": false, "zero": false}, "axis": null}, "text": {"field": "t", "type": "nominal"},
   "color": {"field": "g", "type": "nominal", "scale": {"domain": ["k", "u", "n", "h", "sp"], "range": ["#222222", "#7474c0", "#0b0b77", "#ffffff", "#1e6b3c"]}, "legend": null}}},
 {"data": {"name": "mir"}, "mark": {"type": "text", "align": "center", "baseline": "middle", "font": "Liberation Serif", "fontWeight": "bold", "fontSize": 12, "color": "#b02a2a"},
  "encoding": {"x": {"field": "s", "type": "quantitative", "scale": {"domain": [34940110, 34951533], "nice": false, "zero": false}, "axis": null},
   "y": {"field": "y", "type": "quantitative", "scale": {"domain": [0, 444], "reverse": true, "nice": false, "zero": false}, "axis": null}, "text": {"field": "t", "type": "nominal"}}},
 {"data": {"name": "ideo"}, "transform": [{"filter": "datum.k == 'frame'"}], "mark": {"type": "rect", "fill": "#ffffff", "stroke": "#7a7a7a", "strokeWidth": 2, "cornerRadius": 2},
  "encoding": {"x": {"field": "s", "type": "quantitative", "scale": {"domain": [-38.25, 206.17], "nice": false, "zero": false}, "axis": null}, "x2": {"field": "e"},
   "y": {"field": "y", "type": "quantitative", "scale": {"domain": [0, 444], "reverse": true, "nice": false, "zero": false}, "axis": null}, "y2": {"field": "y2"}}},
 {"data": {"name": "bands"}, "mark": {"type": "rect"},
  "encoding": {"x": {"field": "s", "type": "quantitative", "scale": {"domain": [-38.25, 206.17], "nice": false, "zero": false}, "axis": null}, "x2": {"field": "e"},
   "y": {"field": "y", "type": "quantitative", "scale": {"domain": [0, 444], "reverse": true, "nice": false, "zero": false}, "axis": null}, "y2": {"field": "y2"},
   "color": {"field": "st", "type": "nominal", "scale": {"domain": ["gneg", "gpos25", "gpos50", "gpos75", "gpos100"], "range": ["#ffffff", "#c4c4c4", "#8c8c8c", "#4a4a4a", "#000000"]}, "legend": null}}},
 {"data": {"name": "ideo"}, "transform": [{"filter": "datum.k == 'arm'"}], "mark": {"type": "rect", "fill": "#ffffff", "fillOpacity": 0, "stroke": "#333333", "strokeWidth": 0.8},
  "encoding": {"x": {"field": "s", "type": "quantitative", "scale": {"domain": [-38.25, 206.17], "nice": false, "zero": false}, "axis": null}, "x2": {"field": "e"},
   "y": {"field": "y", "type": "quantitative", "scale": {"domain": [0, 444], "reverse": true, "nice": false, "zero": false}, "axis": null}, "y2": {"field": "y2"}}},
 {"data": {"name": "cen"}, "mark": {"type": "point", "filled": true, "color": "#a52a2a", "opacity": 1, "size": 150},
  "encoding": {"x": {"field": "s", "type": "quantitative", "scale": {"domain": [-38.25, 206.17], "nice": false, "zero": false}, "axis": null},
   "y": {"field": "y", "type": "quantitative", "scale": {"domain": [0, 444], "reverse": true, "nice": false, "zero": false}, "axis": null},
   "shape": {"field": "sh", "type": "nominal", "scale": null, "legend": null}}},
 {"data": {"name": "blabs"}, "transform": [{"filter": "datum.st != 'txt'"}], "mark": {"type": "text", "align": "center", "baseline": "middle", "font": "DejaVu Sans Mono", "fontSize": 8},
  "encoding": {"x": {"field": "s", "type": "quantitative", "scale": {"domain": [-38.25, 206.17], "nice": false, "zero": false}, "axis": null},
   "y": {"field": "y", "type": "quantitative", "scale": {"domain": [0, 444], "reverse": true, "nice": false, "zero": false}, "axis": null}, "text": {"field": "t", "type": "nominal"},
   "color": {"field": "st", "type": "nominal", "scale": {"domain": ["gneg", "gpos25", "gpos50", "gpos75", "gpos100"], "range": ["#000000", "#000000", "#ffffff", "#ffffff", "#ffffff"]}, "legend": null}}},
 {"data": {"name": "blabs"}, "transform": [{"filter": "datum.st == 'txt'"}], "mark": {"type": "text", "align": "left", "baseline": "middle", "font": "DejaVu Sans Mono", "fontSize": 9, "color": "#000000"},
  "encoding": {"x": {"field": "s", "type": "quantitative", "scale": {"domain": [-38.25, 206.17], "nice": false, "zero": false}, "axis": null},
   "y": {"field": "y", "type": "quantitative", "scale": {"domain": [0, 444], "reverse": true, "nice": false, "zero": false}, "axis": null}, "text": {"field": "t", "type": "nominal"}}},
 {"data": {"name": "ideo"}, "transform": [{"filter": "datum.k == 'here'"}], "mark": {"type": "rule", "color": "#e31a1c", "strokeWidth": 3},
  "encoding": {"x": {"field": "s", "type": "quantitative", "scale": {"domain": [-38.25, 206.17], "nice": false, "zero": false}, "axis": null},
   "y": {"field": "y", "type": "quantitative", "scale": {"domain": [0, 444], "reverse": true, "nice": false, "zero": false}, "axis": null}, "y2": {"field": "y2"}}},
 {"data": {"name": "cons"}, "mark": {"type": "bar", "color": "#9e9ec9", "size": 3.2, "orient": "vertical"},
  "encoding": {"x": {"field": "p", "type": "quantitative", "scale": {"domain": [34940110, 34951533], "nice": false, "zero": false}, "axis": null},
   "y": {"field": "h", "type": "quantitative", "stack": null, "scale": {"domain": [-8.08, 26.08], "nice": false, "zero": false}, "axis": null}}},
 {"data": {"name": "cons"}, "mark": {"type": "bar", "color": "#1f1f75", "size": 3.2, "orient": "vertical"},
  "encoding": {"x": {"field": "p", "type": "quantitative", "scale": {"domain": [34940110, 34951533], "nice": false, "zero": false}, "axis": null},
   "y": {"field": "m", "type": "quantitative", "stack": null, "scale": {"domain": [-8.08, 26.08], "nice": false, "zero": false}, "axis": null}}},
 {"data": {"name": "cons"}, "mark": {"type": "bar", "color": "#8e1f2c", "size": 3.2, "orient": "vertical"},
  "encoding": {"x": {"field": "p", "type": "quantitative", "scale": {"domain": [34940110, 34951533], "nice": false, "zero": false}, "axis": null},
   "y": {"field": "l", "type": "quantitative", "stack": null, "scale": {"domain": [-8.08, 26.08], "nice": false, "zero": false}, "axis": null}}},
 {"data": {"name": "boxes"}, "transform": [{"filter": "datum.k == 'hl'"}], "mark": {"type": "rect", "fill": "#ffffff", "fillOpacity": 0, "stroke": "#e06060", "strokeWidth": 1.5},
  "encoding": {"x": {"field": "s", "type": "quantitative", "scale": {"domain": [34940110, 34951533], "nice": false, "zero": false}, "axis": null}, "x2": {"field": "e"},
   "y": {"field": "y", "type": "quantitative", "scale": {"domain": [0, 444], "reverse": true, "nice": false, "zero": false}, "axis": null}, "y2": {"field": "y2"}}}
]
}
